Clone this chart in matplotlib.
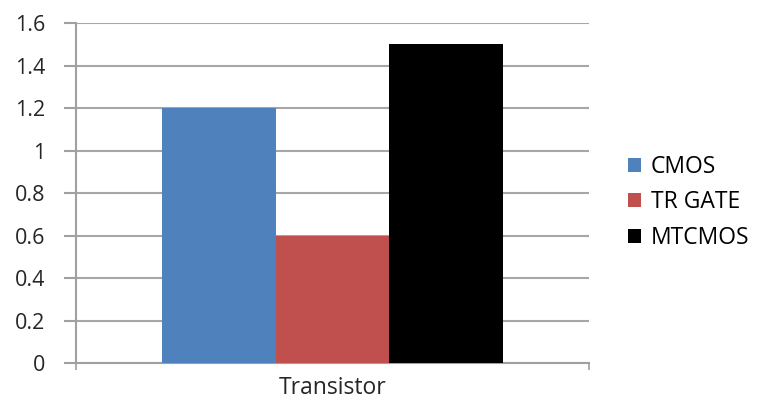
import matplotlib.pyplot as plt
from matplotlib.patches import Patch

categories = ["Transistor"]
series = ["CMOS", "TR GATE", "MTCMOS"]
values = [1.2, 0.6, 1.5]
colors = ["#4F81BD", "#C0504D", "#000000"]
yticks = [0, 0.2, 0.4, 0.6, 0.8, 1.0, 1.2, 1.4, 1.6]
ytick_labels = ["0", "0.2", "0.4", "0.6", "0.8", "1", "1.2", "1.4", "1.6"]

plt.rcParams['font.family'] = ['Open Sans', 'DejaVu Sans']

fig = plt.figure(figsize=(7.62, 4.05), dpi=100)
ax = fig.add_axes([0.0997, 0.1037, 0.6733, 0.8393])

width = 0.221
offsets = [-width, 0, width]
for name, val, col, off in zip(series, values, colors, offsets):
    ax.bar(off, val, width=width, color=col, label=name, zorder=3, linewidth=0)

ax.set_xlim(-0.5, 0.5)
ax.set_ylim(0, 1.6)
ax.set_yticks(yticks)
ax.set_yticklabels(ytick_labels, fontsize=15.5, color="#262626")
ax.set_xticks([0])
ax.set_xticklabels(categories, fontsize=16.5, color="#262626")
ax.tick_params(axis='x', length=0, pad=9)
ax.set_xticks([-0.5, 0.5], minor=True)
ax.tick_params(axis='x', which='minor', length=5, color="#A0A0A0", width=1.2)
ax.tick_params(axis='y', length=9, color="#A0A0A0", width=1.5, pad=13)

ax.grid(axis='y', color="#A6A6A6", linewidth=1.5, zorder=0)
for s in ['top', 'right']:
    ax.spines[s].set_visible(False)
ax.spines['left'].set_color("#A0A0A0")
ax.spines['left'].set_linewidth(1.5)
ax.spines['bottom'].set_color("#A0A0A0")
ax.spines['bottom'].set_linewidth(1.5)

handles = [Patch(facecolor=c, edgecolor='none', label=n) for n, c in zip(series, colors)]
fig.legend(handles=handles, loc='center left', bbox_to_anchor=(0.797, 0.5),
           frameon=False, fontsize=16.5, handlelength=0.55, handleheight=0.55,
           handletextpad=0.45, labelspacing=0.5)

fig.savefig("out.png", dpi=100)
